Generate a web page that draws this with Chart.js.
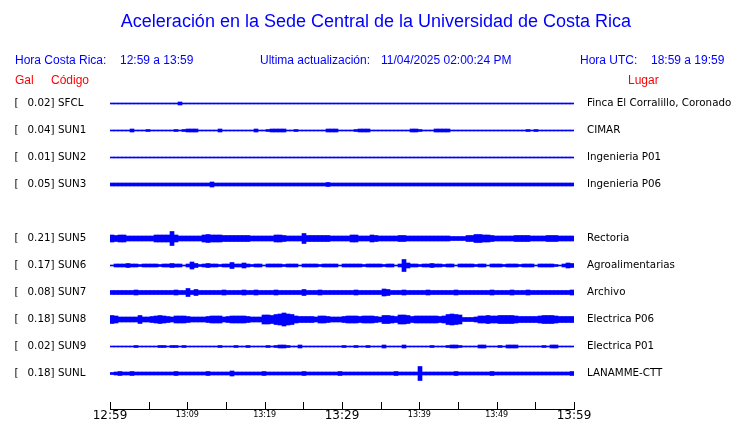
<!DOCTYPE html>
<html>
<head>
<meta charset="utf-8">
<script src="https://cdn.jsdelivr.net/npm/chart.js@4"></script>
<style>
  body { margin: 0; background: #fff; }
  #wrap { position: relative; width: 740px; height: 423px; overflow: hidden; }
  canvas { position: absolute; left: 0; top: 0; }
  .t { position: absolute; font-family: 'Liberation Sans', Arial, sans-serif; font-size: 12px; line-height: 1; white-space: pre; color: #0000ff; }
  .red { color: #ff0000; }
</style>
</head>
<body>
<div id="wrap">
  <canvas id="chart" width="740" height="423"></canvas>
  <div class="t" style="left:0;width:752px;top:12px;text-align:center;font-size:18px">Aceleración en la Sede Central de la Universidad de Costa Rica</div>
  <div class="t" style="left:15px;top:54px">Hora Costa Rica:</div>
  <div class="t" style="left:120px;top:54px">12:59 a 13:59</div>
  <div class="t" style="left:260px;top:54px">Ultima actualización:</div>
  <div class="t" style="left:381px;top:54px">11/04/2025 02:00:24 PM</div>
  <div class="t" style="left:580px;top:54px">Hora UTC:</div>
  <div class="t" style="left:651px;top:54px">18:59 a 19:59</div>
  <div class="t red" style="left:15px;top:74px">Gal</div>
  <div class="t red" style="left:51px;top:74px">Código</div>
  <div class="t red" style="left:628px;top:74px">Lugar</div>
</div>
<script>
// stations, top to bottom (SUN4 has no data)
const codes = ['SFCL', 'SUN1', 'SUN2', 'SUN3', 'SUN4', 'SUN5', 'SUN6', 'SUN7', 'SUN8', 'SUN9', 'SUNL'];
const peaks = [0.02, 0.04, 0.01, 0.05, null, 0.21, 0.17, 0.08, 0.18, 0.02, 0.18];
const places = ['Finca El Corralillo, Coronado', 'CIMAR', 'Ingenieria P01', 'Ingenieria P06', '',
  'Rectoria', 'Agroalimentarias', 'Archivo', 'Electrica P06', 'Electrica P01', 'LANAMME-CTT'];

// time axis: minutes after 12:59, labels every 10 minutes
const timeLabels = ['12:59', '13:09', '13:19', '13:29', '13:39', '13:49', '13:59'];

// trace envelopes, 116 steps over the hour, each char = band thickness (base 36)
const traces = [
  '1111111111 1111111311 1111111111 1111111111 1111111111 1111111111 1111111111 1111111111 1111111111 1111111111 1111111111 111111',
  '1111131112 1111112123 3311111311 1111113112 3333112111 1111333111 1233311111 1111133211 1333311111 1111111111 1111212111 111111',
  '1111111111 1111111111 1111111111 1111111111 1111111111 1111111111 1111111111 1111111111 1111111111 1111111111 1111111111 111111',
  '3333333333 3333333333 3333353333 3333333333 3333333333 3333433333 3333333333 3333333333 3333333333 3333333333 3333333333 333333',
  '',
  '7677555555 57777e7555 5557877766 6666655555 57765555a6 6666655555 7755576555 5566555555 5555544446 6887765555 5666655556 665555',
  '1333433233 3323343313 7423433233 6335323313 3332333133 3323333133 3332333323 313c533233 4332331333 3233133323 3323331333 321354',
  '4444445444 4444445448 4644444454 4445445444 4544444464 4454444444 4544444476 4445444445 4444445444 4444454444 5444544444 444445',
  '8755555855 6787657776 5555677756 7777655599 8abdba7666 6577655567 7767776588 7699867777 7767aba944 4577877888 8766666788 876666',
  '1111112111 1122122121 1111111211 1211211112 1233211311 1111111121 1211211131 1113111111 2111233211 1133111213 3311111121 331111',
  '2343343333 3333334333 3333433333 5333333343 3333333343 3333333433 3333333333 3433333e33 3333334333 3333343333 3333333333 333334'
];

const ROW_PX = 27;      // pixel spacing between rows
const PLOT_H = 319;     // chart area height
const yMin = -0.5;
const yMax = yMin + PLOT_H / ROW_PX;

const datasets = traces.map((s, k) => {
  const chars = s.replace(/\s/g, '').split('');
  const step = 60 / chars.length;
  return {
    data: chars.map((c, i) => {
      const h = parseInt(c, 36) / 2 / ROW_PX;
      return { x: (i + 0.5) * step, y: [k - h, k + h] };
    }),
    backgroundColor: '#0000ff',
    borderWidth: 0
  };
});

// station labels on the left
const leftLabels = {
  id: 'leftLabels',
  afterDraw(chart) {
    const c = chart.ctx, y = chart.scales.y;
    c.save();
    c.font = '10.3px "DejaVu Sans"';
    c.fillStyle = '#000';
    c.textBaseline = 'middle';
    codes.forEach((code, k) => {
      if (peaks[k] == null) return;
      const py = y.getPixelForValue(k);
      c.textAlign = 'left';
      c.fillText('[', 14.5, py);
      c.textAlign = 'right';
      c.fillText(peaks[k].toFixed(2) + ']', 54.5, py);
      c.textAlign = 'left';
      c.fillText(code, 58, py);
    });
    c.restore();
  }
};

// tick marks pointing up from the time axis
const tickMarks = {
  id: 'tickMarks',
  afterDraw(chart) {
    const c = chart.ctx, x = chart.scales.x, b = chart.chartArea.bottom;
    c.save();
    c.strokeStyle = '#000';
    c.lineWidth = 1;
    c.beginPath();
    x.ticks.forEach(t => {
      const px = Math.round(x.getPixelForValue(t.value)) + 0.5;
      c.moveTo(px, b - 7);
      c.lineTo(px, b);
    });
    c.stroke();
    c.restore();
  }
};

new Chart(document.getElementById('chart').getContext('2d'), {
  type: 'bar',
  data: { datasets },
  plugins: [leftLabels, tickMarks],
  options: {
    responsive: false,
    animation: false,
    devicePixelRatio: 1,
    layout: { padding: { top: 90, left: 110, right: 0, bottom: 0 } },
    plugins: { legend: { display: false }, tooltip: { enabled: false } },
    datasets: { bar: { grouped: false, barPercentage: 1, categoryPercentage: 1 } },
    scales: {
      x: {
        type: 'linear', min: 0, max: 60, offset: false,
        grid: { display: false, drawTicks: false },
        border: { display: true, color: '#000', width: 1 },
        ticks: {
          stepSize: 5, autoSkip: false, maxRotation: 0, padding: 0, color: '#000',
          font: ctx => ctx.tick && ctx.tick.value % 30 === 0
            ? { family: 'DejaVu Sans', size: 12, lineHeight: 1.2 }
            : { family: 'DejaVu Sans', size: 8, lineHeight: 1.6 },
          callback: v => v % 10 === 0 ? timeLabels[v / 10] : ''
        },
        afterFit: s => { s.height = 14; }
      },
      y: { display: false, reverse: true, min: yMin, max: yMax },
      y2: {
        position: 'right', reverse: true, min: yMin, max: yMax,
        grid: { display: false, drawTicks: false },
        border: { display: false },
        ticks: {
          padding: 13, color: '#000', autoSkip: false,
          font: { family: 'DejaVu Sans', size: 10.3 },
          callback: v => places[v]
        },
        afterBuildTicks: s => { s.ticks = places.map((p, k) => ({ value: k })).filter(t => places[t.value]); },
        afterFit: s => { s.width = 166; s.paddingTop = 0; s.paddingBottom = 0; }
      }
    }
  }
});
</script>
</body>
</html>
